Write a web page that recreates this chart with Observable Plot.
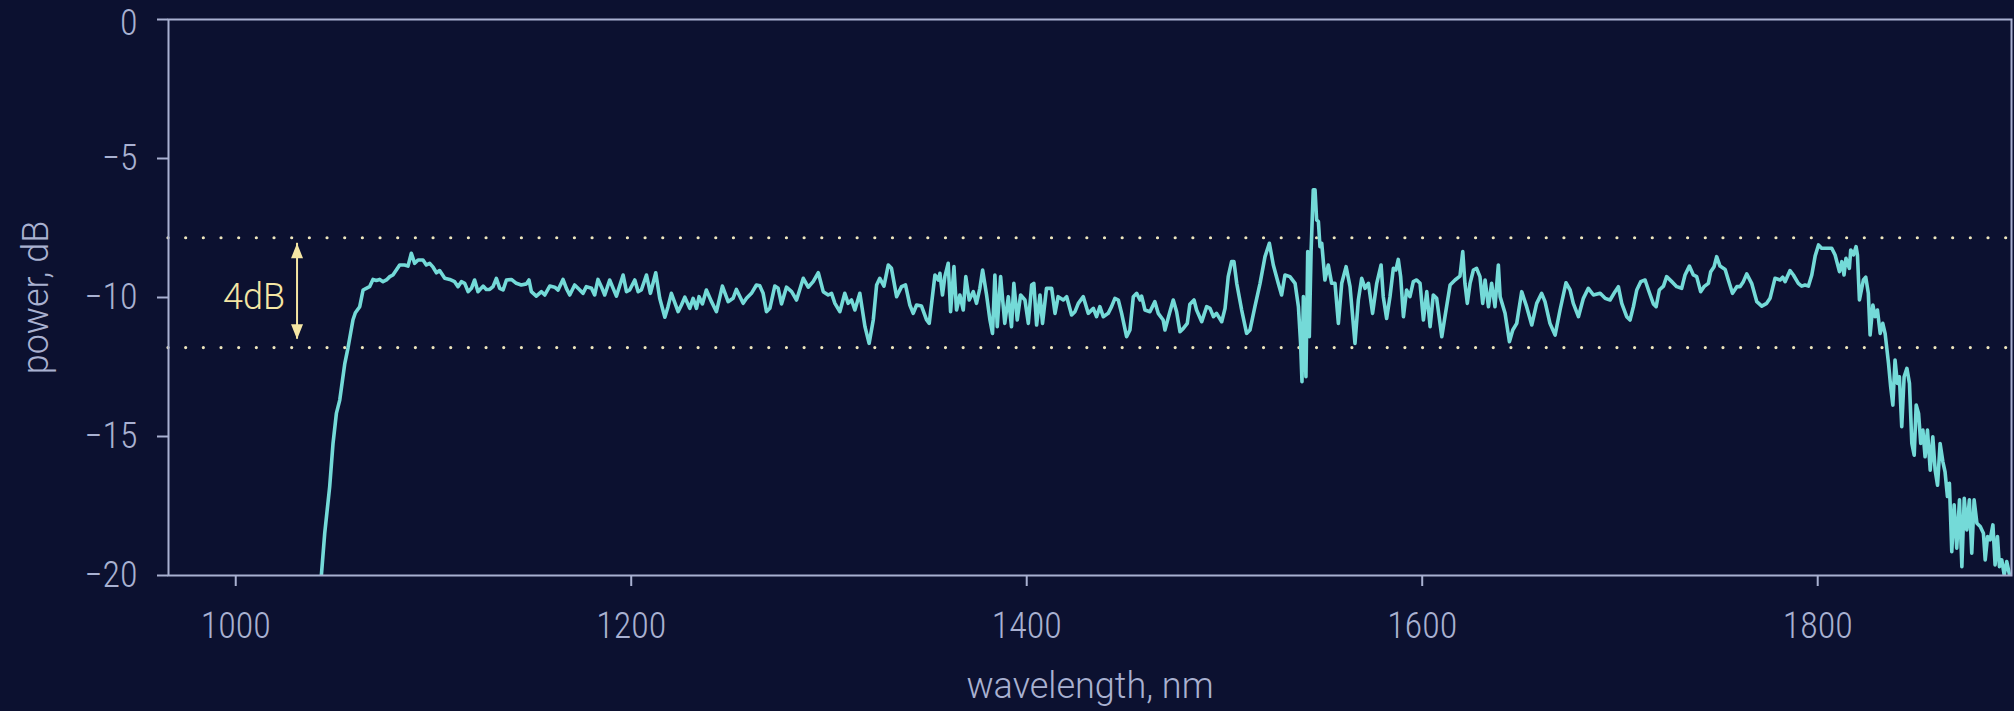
<!DOCTYPE html>
<html>
<head>
<meta charset="utf-8">
<script src="https://cdn.jsdelivr.net/npm/d3@7"></script>
<script src="https://cdn.jsdelivr.net/npm/@observablehq/plot@0.6"></script>
<style>
  html, body { margin: 0; padding: 0; background: #0c1130; overflow: hidden; }
  #chart svg { display: block; }
</style>
</head>
<body>
<div id="chart"></div>
<script>
// ---- data ----
const wavelength = [
1043.3,1045.0,1047.5,1049.2,1050.9,1052.6,1055.1,1056.8,1059.3,1060.5,1062.7,1064.4,1066.0,1067.7,1069.4,1071.1,1072.8,1074.5,1076.2,1077.9,
1079.5,1081.2,1082.9,1085.4,1087.1,1088.8,1090.5,1092.2,1094.7,1096.4,1098.1,1099.8,1101.5,1103.1,1105.7,1108.2,1110.7,1112.4,1114.1,1115.8,
1117.5,1119.2,1120.8,1122.5,1125.1,1126.7,1128.4,1130.1,1131.8,1133.5,1135.2,1136.9,1139.4,1141.9,1144.4,1147.0,1148.3,1149.5,1152.0,1154.6,
1156.3,1158.8,1161.3,1163.0,1165.5,1167.2,1168.9,1171.4,1174.0,1175.6,1177.3,1179.9,1181.5,1183.2,1184.9,1186.6,1189.1,1192.5,1195.9,1197.6,
1199.2,1201.8,1203.5,1205.1,1207.7,1209.7,1212.4,1214.4,1217.0,1218.6,1220.3,1223.7,1225.4,1227.1,1229.6,1231.3,1233.0,1234.3,1236.0,1238.0,
1240.6,1243.1,1246.1,1249.0,1251.5,1253.2,1256.6,1258.3,1260.8,1263.3,1265.0,1266.7,1268.4,1270.1,1272.6,1274.3,1276.0,1278.5,1281.1,1283.6,
1287.0,1289.5,1292.0,1294.6,1297.1,1299.6,1301.3,1303.0,1305.5,1308.0,1309.7,1311.4,1313.1,1315.6,1318.2,1320.3,1322.4,1324.1,1325.7,1327.8,
1330.0,1331.6,1334.2,1336.7,1338.7,1340.9,1342.6,1344.3,1346.8,1349.4,1350.7,1352.7,1353.6,1355.3,1356.1,1357.4,1358.6,1360.3,1361.5,1363.2,
1364.5,1366.2,1367.9,1369.2,1370.9,1373.0,1374.6,1376.3,1377.7,1379.7,1381.4,1382.7,1383.9,1385.1,1386.8,1388.9,1390.7,1392.3,1393.5,1395.2,
1396.9,1399.1,1400.8,1402.5,1403.6,1405.0,1406.7,1408.0,1410.0,1412.6,1414.3,1415.9,1418.5,1420.2,1422.7,1424.4,1426.1,1428.6,1431.1,1433.7,
1435.3,1437.0,1438.7,1441.2,1442.9,1444.6,1446.3,1448.0,1450.5,1452.2,1453.9,1455.6,1457.3,1458.1,1459.8,1462.3,1464.8,1466.5,1469.0,1469.9,
1472.4,1474.1,1475.8,1477.5,1479.2,1481.2,1482.5,1484.6,1485.9,1488.5,1491.0,1492.7,1494.4,1496.0,1498.6,1500.3,1501.9,1503.6,1504.8,1506.2,
1508.7,1511.2,1512.9,1515.4,1518.0,1520.5,1522.7,1524.7,1527.2,1528.9,1530.6,1533.1,1535.7,1537.4,1538.5,1539.2,1539.9,1541.2,1542.1,1542.9,
1543.8,1544.9,1545.8,1546.6,1547.5,1548.3,1549.2,1550.8,1552.5,1554.2,1555.9,1557.6,1559.3,1561.5,1563.5,1566.0,1567.7,1569.4,1571.1,1572.8,
1574.9,1577.0,1579.2,1580.3,1582.0,1583.7,1585.4,1586.7,1587.9,1589.1,1590.5,1592.1,1593.8,1595.5,1597.2,1598.9,1600.6,1602.3,1604.0,1605.6,
1607.3,1609.9,1611.5,1614.1,1616.6,1619.1,1620.5,1621.6,1622.8,1624.2,1625.9,1627.5,1629.2,1630.6,1631.8,1633.5,1635.1,1636.8,1638.5,1639.4,
1641.9,1644.1,1645.8,1647.8,1650.3,1652.8,1655.4,1657.9,1660.4,1662.1,1664.6,1667.2,1669.7,1672.7,1674.8,1676.4,1679.0,1681.5,1684.0,1686.6,
1690.0,1692.5,1695.0,1697.5,1699.2,1700.9,1703.4,1705.1,1706.8,1708.5,1710.5,1712.7,1714.4,1716.9,1718.3,1719.9,1722.0,1723.6,1726.2,1728.7,
1731.2,1732.9,1735.1,1737.1,1738.8,1740.8,1742.5,1744.7,1745.9,1747.6,1748.9,1750.6,1753.2,1754.8,1756.9,1759.1,1760.7,1762.4,1764.1,1766.6,
1769.2,1771.7,1774.2,1775.9,1778.4,1781.0,1782.3,1783.5,1786.0,1787.7,1790.2,1791.9,1793.6,1795.3,1797.0,1798.7,1800.4,1802.0,1804.6,1807.1,
1808.8,1811.0,1812.2,1813.3,1814.3,1816.0,1816.7,1818.1,1819.4,1820.1,1821.1,1823.1,1824.3,1825.6,1826.5,1827.9,1829.0,1830.2,1831.6,1832.9,
1834.1,1835.8,1836.9,1838.0,1839.1,1840.3,1841.3,1842.5,1843.7,1845.1,1846.4,1847.6,1848.8,1849.8,1851.0,1852.1,1853.2,1854.3,1855.5,1856.9,
1858.2,1859.4,1860.6,1861.9,1863.3,1864.4,1865.6,1866.6,1867.8,1869.0,1870.3,1871.7,1872.9,1874.1,1875.4,1876.7,1877.9,1879.1,1880.5,1882.2,
1883.8,1884.7,1885.9,1887.2,1888.6,1889.7,1890.9,1891.9,1893.1,1894.3,1895.6,1897.0
];
const power = [
-20.0,-18.48,-16.81,-15.25,-14.17,-13.69,-12.4,-11.8,-10.8,-10.55,-10.33,-9.73,-9.67,-9.61,-9.35,-9.39,-9.35,-9.43,-9.37,-9.25,
-9.19,-9.01,-8.83,-8.83,-8.87,-8.41,-8.77,-8.65,-8.65,-8.83,-8.77,-8.91,-9.11,-9.03,-9.31,-9.35,-9.43,-9.61,-9.43,-9.49,
-9.79,-9.67,-9.37,-9.79,-9.59,-9.71,-9.71,-9.61,-9.31,-9.67,-9.73,-9.37,-9.35,-9.49,-9.55,-9.51,-9.37,-9.79,-9.95,-9.79,
-9.91,-9.59,-9.63,-9.73,-9.35,-9.67,-9.91,-9.55,-9.73,-9.85,-9.61,-9.67,-9.91,-9.35,-9.61,-9.91,-9.37,-9.95,-9.19,-9.79,
-9.73,-9.37,-9.79,-9.73,-9.19,-9.85,-9.11,-10.03,-10.71,-10.33,-9.85,-10.51,-10.27,-9.99,-10.39,-10.03,-10.39,-9.97,-10.23,-9.73,
-10.15,-10.51,-9.59,-10.15,-10.03,-9.71,-10.21,-10.03,-9.85,-9.55,-9.58,-9.85,-10.51,-10.39,-9.59,-9.67,-10.23,-9.63,-9.79,-10.09,
-9.31,-9.63,-9.43,-9.11,-9.79,-9.91,-9.85,-10.21,-10.51,-9.85,-10.21,-10.09,-10.45,-9.85,-11.05,-11.65,-10.81,-9.55,-9.31,-9.59,
-8.83,-8.95,-9.97,-9.61,-9.55,-10.27,-10.57,-10.27,-10.31,-10.81,-10.93,-9.73,-9.19,-9.37,-9.13,-9.91,-9.25,-8.77,-10.51,-8.89,
-10.45,-9.91,-10.45,-9.25,-10.09,-9.79,-10.21,-9.67,-9.01,-9.91,-10.81,-11.29,-9.19,-11.05,-9.25,-10.93,-9.97,-11.05,-9.49,-10.81,
-9.91,-10.09,-10.93,-9.55,-9.49,-10.99,-9.91,-10.93,-9.67,-9.67,-10.57,-9.97,-10.09,-9.97,-10.63,-10.51,-10.21,-9.97,-10.57,-10.39,
-10.69,-10.33,-10.69,-10.57,-10.33,-10.03,-10.09,-10.57,-11.41,-11.17,-9.97,-9.85,-10.09,-9.95,-10.45,-10.51,-10.15,-10.57,-10.81,-11.17,
-10.51,-10.09,-10.51,-11.23,-11.11,-10.93,-10.24,-10.09,-10.45,-10.87,-10.33,-10.39,-10.69,-10.57,-10.87,-10.39,-9.25,-8.71,-8.71,-9.49,
-10.45,-11.29,-11.17,-10.33,-9.49,-8.53,-8.05,-8.83,-9.49,-9.91,-9.19,-9.25,-9.49,-10.33,-11.65,-13.03,-9.97,-12.85,-8.35,-11.41,
-8.35,-6.13,-6.13,-7.21,-7.27,-8.17,-8.05,-9.37,-8.83,-9.49,-9.49,-10.93,-9.49,-8.89,-9.61,-11.65,-10.09,-9.31,-9.67,-9.49,
-10.57,-9.49,-8.83,-9.97,-10.75,-9.97,-8.95,-9.01,-8.63,-9.25,-10.69,-9.73,-9.97,-9.43,-9.37,-9.49,-10.81,-9.79,-11.05,-9.91,
-10.03,-11.41,-10.69,-9.55,-9.37,-9.23,-8.35,-9.49,-10.21,-9.49,-9.01,-8.95,-9.25,-10.21,-9.37,-10.33,-9.49,-10.33,-8.83,-9.97,
-10.57,-11.59,-11.17,-10.93,-9.79,-10.33,-10.99,-10.21,-9.85,-10.15,-10.93,-11.35,-10.45,-9.47,-9.73,-10.21,-10.69,-10.03,-9.67,-9.91,
-9.85,-10.03,-10.09,-9.79,-9.61,-10.21,-10.69,-10.81,-10.33,-9.73,-9.43,-9.37,-9.73,-10.23,-10.33,-9.73,-9.59,-9.25,-9.43,-9.61,
-9.67,-9.19,-8.87,-9.19,-9.25,-9.79,-9.61,-9.49,-9.07,-8.89,-8.53,-8.87,-8.99,-9.37,-9.85,-9.61,-9.61,-9.43,-9.15,-9.49,
-10.15,-10.31,-10.21,-10.03,-9.31,-9.37,-9.27,-9.43,-9.03,-9.19,-9.49,-9.59,-9.55,-9.59,-9.19,-8.51,-8.11,-8.23,-8.23,-8.23,
-8.47,-9.07,-8.71,-9.19,-8.59,-8.95,-8.29,-8.47,-8.17,-8.47,-10.09,-9.37,-9.27,-9.85,-11.35,-10.27,-10.69,-10.45,-11.29,-10.93,
-11.3,-12.37,-13.21,-13.87,-12.25,-13.09,-12.85,-14.65,-12.85,-12.55,-13.09,-15.25,-15.67,-13.87,-14.17,-15.25,-14.77,-15.73,-14.77,-16.21,
-15.01,-16.21,-16.75,-15.25,-15.91,-16.27,-17.16,-16.68,-19.14,-17.46,-19.02,-17.28,-19.68,-17.22,-18.36,-17.28,-19.20,-17.28,-18.12,-18.24,
-18.48,-19.44,-18.60,-18.72,-18.18,-19.62,-18.60,-19.68,-19.44,-19.98,-19.50,-19.98
];
const xTicks = [1000, 1200, 1400, 1600, 1800];
const yTicks = [0, -5, -10, -15, -20];
const bandLevels = [-7.85, -11.8];          // dotted guide lines (4 dB band)
const bandArrow = [{x: 1031, top: -8.05, bottom: -11.5}];
const bandLabel = [{x: 1031, y: -10, text: "4dB"}];
const xLabel = "wavelength, nm";
const yLabel = "power, dB";

// ---- styling ----
const BG = "#0c1130";
const AXIS = "#a9b1d1";
const LINE = "#74dad8";
const DOTS = "#eee6bd";
const NOTE = "#f4e6a4";
const DIGITS = "'Roboto Condensed', 'Liberation Sans Narrow', 'DejaVu Sans Condensed', 'Noto Sans', sans-serif";
const WORDS = "Roboto, 'Noto Sans', sans-serif";

const spectrum = wavelength.map((w, i) => ({w, p: power[i]}));
const fmtY = (d) => (d < 0 ? "\u2212" : "") + Math.abs(d);

const headShape = {
  draw(context, l, r) {
    context.moveTo(0, 0);
    context.lineTo(-6, 15);
    context.lineTo(6, 15);
    context.closePath();
  }
};
const heads = [
  {x: bandArrow[0].x, y: bandArrow[0].top, rot: 0},
  {x: bandArrow[0].x, y: bandArrow[0].bottom, rot: 180}
];

const chart = Plot.plot({
  width: 2014,
  height: 711,
  marginTop: 19,
  marginRight: 3,
  marginBottom: 136,
  marginLeft: 168,
  style: {background: BG, color: AXIS, fontFamily: DIGITS, fontSize: "36px", fontWeight: 300},
  x: {domain: [966, 1898]},
  y: {domain: [-20, 0]},
  marks: [
    Plot.axisX({
      ticks: xTicks, tickFormat: "d", tickSize: 11, tickPadding: 26, strokeWidth: 2,
      label: null
    }),
    Plot.axisX({
      ticks: [], tickSize: 0, label: xLabel, labelAnchor: "center", labelArrow: "none",
      labelOffset: 122, fontFamily: WORDS, fontSize: 36
    }),
    Plot.axisY({
      ticks: yTicks, tickSize: 11, tickPadding: 20, strokeWidth: 2,
      tickFormat: (d) => (d === 0 ? "" : fmtY(d)),
      label: null
    }),
    Plot.axisY({
      ticks: yTicks.filter((d) => d === 0), tickSize: 0, tickPadding: 31, dy: 4,
      tickFormat: fmtY, label: null
    }),
    Plot.axisY({
      ticks: [], tickSize: 0, label: yLabel, labelAnchor: "center", labelArrow: "none",
      labelOffset: 146, fontFamily: WORDS, fontSize: 36
    }),
    Plot.ruleY(bandLevels, {stroke: DOTS, strokeWidth: 3.2, strokeDasharray: "0 17.67", strokeLinecap: "round"}),
    Plot.line(spectrum, {x: "w", y: "p", stroke: LINE, strokeWidth: 3.6, strokeLinejoin: "round", clip: true}),
    Plot.frame({stroke: AXIS, strokeWidth: 2}),
    Plot.ruleX(bandArrow, {x: "x", y1: "top", y2: "bottom", stroke: NOTE, strokeWidth: 2}),
    Plot.vector(heads, {x: "x", y: "y", rotate: "rot", length: 15, anchor: "start", shape: headShape, fill: NOTE, stroke: "none"}),
    Plot.text(bandLabel, {x: "x", y: "y", text: "text", textAnchor: "end", dx: -12, fill: NOTE, fontSize: 36, fontFamily: WORDS})
  ]
});
document.getElementById("chart").appendChild(chart);
</script>
</body>
</html>
